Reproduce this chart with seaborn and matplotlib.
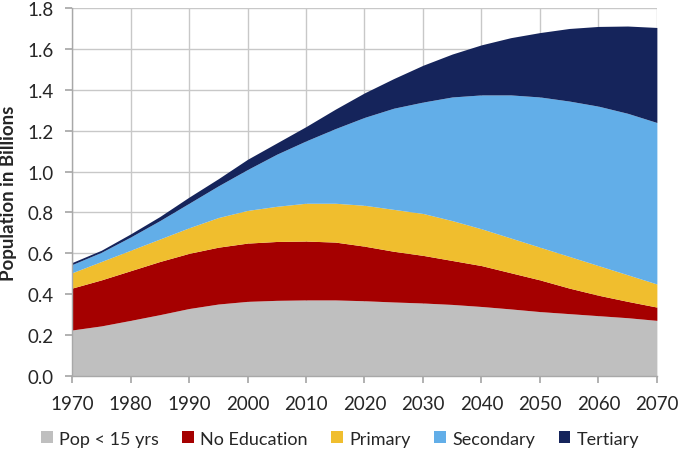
import numpy as np
import matplotlib
matplotlib.use("Agg")
from matplotlib import pyplot as plt
import seaborn as sns

sns.set_theme(style="whitegrid")
plt.rcParams['font.family'] = ['Lato', 'DejaVu Sans']

years = list(range(1970, 2071, 5))

labels = ['Pop < 15 yrs', 'No Education', 'Primary', 'Secondary', 'Tertiary']
colors = ['#bfbfbf', '#a50000', '#f0be2e', '#62aee8', '#15245b']

pop_under15 = [0.225, 0.245, 0.272, 0.30, 0.33, 0.352, 0.365, 0.37, 0.372, 0.372, 0.368,
               0.362, 0.357, 0.35, 0.34, 0.328, 0.315, 0.305, 0.295, 0.285, 0.272]
no_education = [0.205, 0.225, 0.243, 0.26, 0.27, 0.278, 0.285, 0.288, 0.288, 0.283, 0.267,
                0.248, 0.233, 0.215, 0.20, 0.177, 0.155, 0.125, 0.10, 0.08, 0.065]
primary = [0.075, 0.09, 0.10, 0.11, 0.125, 0.145, 0.16, 0.172, 0.185, 0.19, 0.20,
           0.205, 0.205, 0.195, 0.18, 0.17, 0.16, 0.155, 0.145, 0.13, 0.113]
secondary = [0.04, 0.045, 0.065, 0.09, 0.12, 0.155, 0.20, 0.255, 0.305, 0.365, 0.43,
             0.495, 0.545, 0.605, 0.655, 0.70, 0.735, 0.76, 0.78, 0.79, 0.79]
tertiary = [0.01, 0.01, 0.015, 0.02, 0.03, 0.035, 0.05, 0.055, 0.07, 0.095, 0.12,
            0.145, 0.18, 0.21, 0.245, 0.28, 0.315, 0.355, 0.39, 0.427, 0.465]

fig = plt.figure(figsize=(6.8, 4.52), dpi=100)
ax = fig.add_axes([0.106, 0.166, 0.860, 0.814])

ax.stackplot(years, pop_under15, no_education, primary, secondary, tertiary,
             labels=labels, colors=colors, linewidth=0, zorder=2)

ax.set_xlim(1970, 2070)
ax.set_ylim(0, 1.8)
ax.set_xticks(range(1970, 2071, 10))
ax.set_yticks(np.arange(0, 1.81, 0.2))
ax.yaxis.set_major_formatter(matplotlib.ticker.FormatStrFormatter('%.1f'))
ax.grid(True, color='#c8c8c8', linewidth=1)
ax.set_axisbelow(True)

for side in ['top', 'right']:
    ax.spines[side].set_visible(False)
for side in ['left', 'bottom']:
    ax.spines[side].set_color('#a8a8a8')
    ax.spines[side].set_linewidth(1)
ax.tick_params(axis='x', bottom=True, length=5, color='#a8a8a8', labelsize=13.5, pad=9)
ax.tick_params(axis='y', left=True, length=5, color='#a8a8a8', labelsize=13.5, pad=8)

ax.set_ylabel('Population in Billions', fontsize=13.5, fontweight='bold', labelpad=6)
ax.yaxis.set_label_coords(-0.095, 0.5)

handles, lbls = ax.get_legend_handles_labels()
fig.legend(handles, lbls, loc='center', ncol=5, frameon=False,
           bbox_to_anchor=(0.5, 0.027), fontsize=13, handlelength=0.65,
           handleheight=0.65, handletextpad=0.35, columnspacing=1.3)

fig.savefig('out.png', dpi=100)
